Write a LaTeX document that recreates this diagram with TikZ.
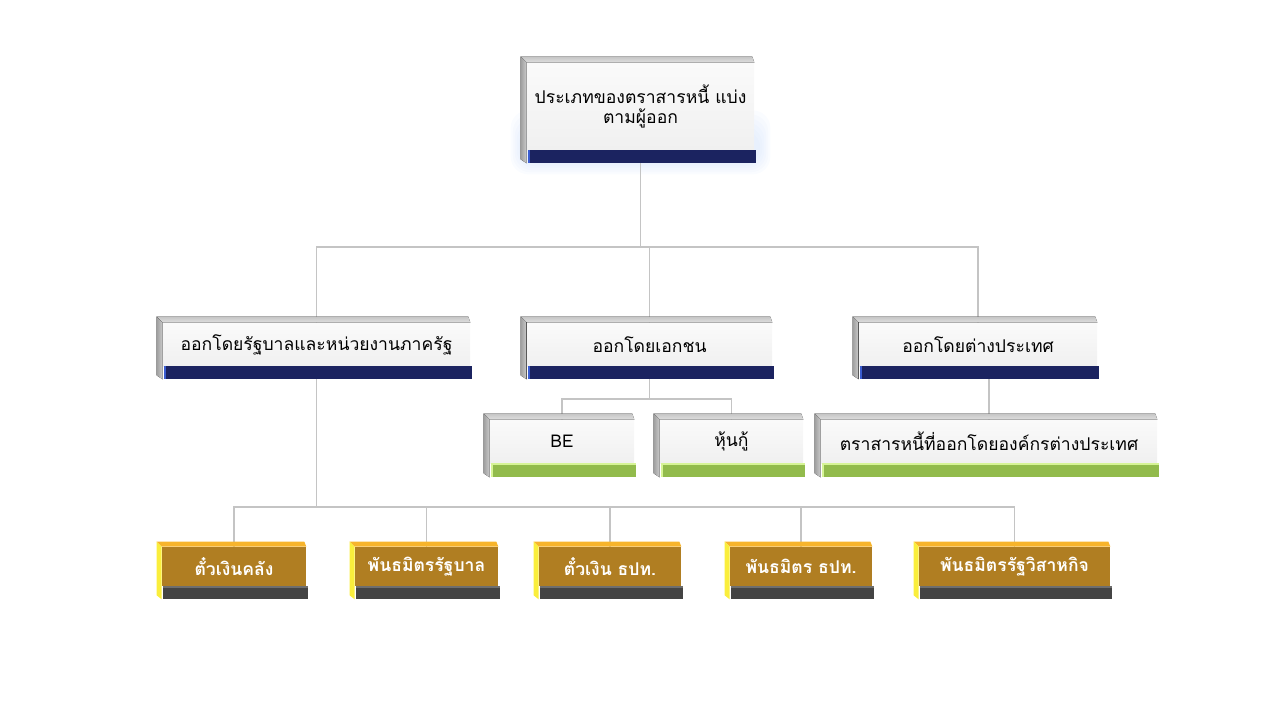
\documentclass[tikz,border=0pt]{standalone}
\usepackage{fontspec}
\newfontfamily\thaifont[Script=Thai]{Loma}
\usetikzlibrary{calc,backgrounds}
\newcommand\pxlen{0.02cm}
\definecolor{navybar}{RGB}{27,35,96}
\definecolor{navyedge}{RGB}{58,92,208}
\definecolor{greenbar}{RGB}{146,187,76}
\definecolor{greenedge}{RGB}{214,244,150}
\definecolor{goldface}{RGB}{176,126,34}
\definecolor{goldtop}{RGB}{247,180,44}
\definecolor{goldside}{RGB}{250,238,60}
\definecolor{darkbar}{RGB}{68,68,68}
\definecolor{darkedge}{RGB}{110,110,110}
\definecolor{linkgray}{RGB}{196,196,196}
\definecolor{facetop}{RGB}{250,250,250}
\definecolor{facegray}{RGB}{240,240,240}
\definecolor{glowblue}{RGB}{190,212,250}
% #1 node, #2 depth, #3 top, #4 side, #5 bar, #6 bar height, #7 bar edge
\newcommand\slab[7]{%
  \fill[#3] (#1.north west) -- ++(-#2,-#2) -- ($(#1.north east)+(-2,-#2)$) -- (#1.north east) -- cycle;
  \fill[#4] (#1.north west) -- ++(-#2,-#2) -- ($(#1.south west)+(-#2,#6-4)$) -- ($(#1.south west)+(0,#6)$) -- cycle;
  \fill[#5] ($(#1.south west)+(1,0)$) rectangle ($(#1.south east)+(2,#6)$);
  \fill[#7] ($(#1.south west)+(1,0)$) rectangle ($(#1.south west)+(3,#6)$);
}

\begin{document}
\begin{tikzpicture}[x=\pxlen,y=-\pxlen,
  face/.style 2 args={rectangle, inner sep=0pt, minimum width=#1*\pxlen, minimum height=#2*\pxlen,
    align=center, font=\thaifont\fontsize{10}{11.5}\selectfont},
  grayface/.style 2 args={face={#1}{#2}, top color=facetop, bottom color=facegray},
  goldbox/.style 2 args={face={#1}{#2}, fill=goldface, text=white,
    font=\thaifont\bfseries\fontsize{10}{11.5}\selectfont},
  graytop/.style={top color=gray!45, bottom color=gray!25},
  grayside/.style={left color=gray!75, right color=gray!40},
  link/.style={draw=linkgray, line width=0.6pt}]
\useasboundingbox (0,0) rectangle (1280,720);

\node[grayface={227}{87}] (root) at (640.5,106.5) {ประเภทของตราสารหนี้ แบ่ง\\ตามผู้ออก};

\node[grayface={307}{43}] (gov) at (316.5,344.5) {ออกโดยรัฐบาลและหน่วยงานภาครัฐ};
\node[grayface={245}{43}] (priv) at (649.5,344.5) {ออกโดยเอกชน};
\node[grayface={238}{43}] (frgn) at (978,344.5) {ออกโดยต่างประเทศ};

\node[grayface={144}{43}] (be) at (562,441.5) {BE};
\node[grayface={143}{43}] (deb) at (731.5,441.5) {หุ้นกู้};
\node[grayface={336}{43}] (fbond) at (989,441.5) {ตราสารหนี้ที่ออกโดยองค์กรต่างประเทศ};

\node[goldbox={144}{39}] (tbill) at (234,566.5) {ตั๋วเงินคลัง};
\node[goldbox={143}{39}] (gbond) at (426.5,566.5) {พันธมิตรรัฐบาล};
\node[goldbox={142}{39}] (bbill) at (610,566.5) {ตั๋วเงิน ธปท.};
\node[goldbox={142}{39}] (bbond) at (801,566.5) {พันธมิตร ธปท.};
\node[goldbox={191}{39}] (sbond) at (1014.5,566.5) {พันธมิตรรัฐวิสาหกิจ};

\slab{root}{6}{graytop}{grayside}{navybar}{13}{navyedge}
\foreach \n in {gov,priv,frgn}
  \slab{\n}{6}{graytop}{grayside}{navybar}{13}{navyedge};
\foreach \n in {be,deb,fbond}{
  \slab{\n}{6}{graytop}{grayside}{greenbar}{14}{greenedge}
  \fill[greenedge] ($(\n.south west)+(1,0)$) rectangle ($(\n.south east)+(2,1.5)$);
}
\foreach \n in {tbill,gbond,bbill,bbond,sbond}{
  \slab{\n}{5}{goldtop}{goldside}{darkbar}{13}{darkbar}
  \fill[darkedge] ($(\n.south west)+(1,0)$) rectangle ($(\n.south east)+(2,1.5)$);
}

\begin{pgfonlayer}{background}
\foreach \g in {0,...,5}
  \fill[glowblue, opacity=0.07, rounded corners=10] ($(root.south west)+(-16+2*\g,-40+4*\g)$) rectangle ($(root.south east)+(16-2*\g,24-2*\g)$);
\draw[link] (root.south) -- (root.south |- 0,247) -| (gov.north);
\draw[link] (root.south |- 0,247) -| (priv.north);
\draw[link] (root.south |- 0,247) -| (frgn.north);
\draw[link] (priv.south) -- (priv.south |- 0,399) -| (be.north);
\draw[link] (priv.south |- 0,399) -| (deb.north);
\draw[link] (frgn.south -| fbond.north) -- (fbond.north);
\draw[link] (gov.south) -- (gov.south |- 0,507) -| (tbill.north);
\foreach \n in {gbond,bbill,bbond,sbond}
  \draw[link] (gov.south |- 0,507) -| (\n.north);
\end{pgfonlayer}
\end{tikzpicture}
\end{document}
